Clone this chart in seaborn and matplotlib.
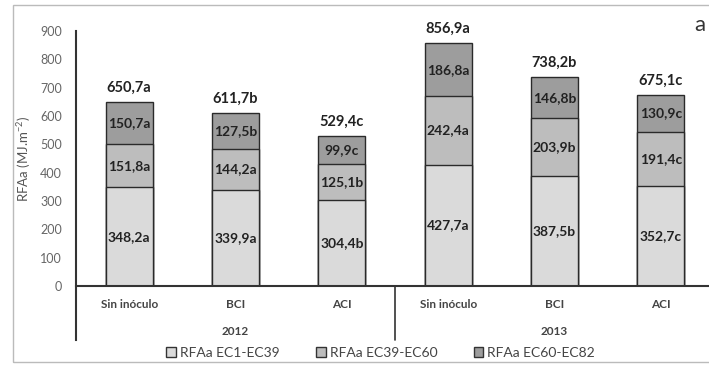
import numpy as np
import pandas as pd
import matplotlib
matplotlib.use('Agg')
import matplotlib.pyplot as plt
from matplotlib.patches import Patch, Rectangle
import seaborn as sns

# data
years = ['2012', '2012', '2012', '2013', '2013', '2013']
treatments = ['Sin inóculo', 'BCI', 'ACI', 'Sin inóculo', 'BCI', 'ACI']
ec1_ec39 = [348.2, 339.9, 304.4, 427.7, 387.5, 352.7]
ec39_ec60 = [151.8, 144.2, 125.1, 242.4, 203.9, 191.4]
ec60_ec82 = [150.7, 127.5, 99.9, 186.8, 146.8, 130.9]
totals = [650.7, 611.7, 529.4, 856.9, 738.2, 675.1]
letters_ec1 = ['a', 'a', 'b', 'a', 'b', 'c']
letters_ec39 = ['a', 'a', 'b', 'a', 'b', 'c']
letters_ec60 = ['a', 'b', 'c', 'a', 'b', 'c']
letters_total = ['a', 'b', 'c', 'a', 'b', 'c']
series_names = ['RFAa EC1-EC39', 'RFAa EC39-EC60', 'RFAa EC60-EC82']
colors = ['#dadada', '#bdbdbd', '#9d9d9d']

df = pd.DataFrame({
    'grupo': [f'{t} {y}' for t, y in zip(treatments, years)],
    'ec1': ec1_ec39,
    'ec39': ec39_ec60,
    'ec60': ec60_ec82,
})
df['cum2'] = df['ec1'] + df['ec39']
df['cum3'] = df['cum2'] + df['ec60']

sns.set_style('white')
plt.rcParams['font.family'] = ['Lato', 'DejaVu Sans']
plt.rcParams['mathtext.default'] = 'regular'

fig = plt.figure(figsize=(7.09, 3.66), dpi=100)
ax = fig.add_axes([76 / 709, 80 / 366, 638 / 709, 255 / 366])

edge = dict(edgecolor='#2a2a2a', linewidth=1.0, width=0.44)
sns.barplot(data=df, x='grupo', y='cum3', color=colors[2], saturation=1, ax=ax, **edge)
sns.barplot(data=df, x='grupo', y='cum2', color=colors[1], saturation=1, ax=ax, **edge)
sns.barplot(data=df, x='grupo', y='ec1', color=colors[0], saturation=1, ax=ax, **edge)


def fmt(v, letter):
    return f'{v:.1f}'.replace('.', ',') + letter


lab_kw = dict(ha='center', va='center', fontsize=10, fontweight='bold', color='#222222')
for i in range(len(df)):
    ax.text(i, ec1_ec39[i] / 2, fmt(ec1_ec39[i], letters_ec1[i]), **lab_kw)
    ax.text(i, ec1_ec39[i] + ec39_ec60[i] / 2, fmt(ec39_ec60[i], letters_ec39[i]), **lab_kw)
    ax.text(i, df['cum2'][i] + ec60_ec82[i] / 2, fmt(ec60_ec82[i], letters_ec60[i]), **lab_kw)
    ax.annotate(fmt(totals[i], letters_total[i]), (i, df['cum3'][i]),
                xytext=(0, 5), textcoords='offset points', ha='center', va='bottom',
                fontsize=10.5, fontweight='bold', color='#222222')

ax.set_ylim(0, 900)
ax.set_xlim(-0.5, 5.5)
ax.set_yticks(range(0, 901, 100))
ax.tick_params(axis='y', length=0, pad=10, labelsize=9, labelcolor='#666666')
ax.tick_params(axis='x', length=0, pad=9, labelsize=8.5, labelcolor='#444444')
ax.set_xticks(range(len(df)))
ax.set_xticklabels(treatments, fontweight='bold')
ax.set_xlabel('')
ax.set_ylabel('RFAa (MJ.m$^{-2}$)', fontsize=9.5, color='#555555', labelpad=5)

for s in ['top', 'right']:
    ax.spines[s].set_visible(False)
ax.spines['left'].set_color('#333333')
ax.spines['left'].set_linewidth(1.5)
ax.spines['left'].set_bounds(-190, 900)
ax.spines['bottom'].set_color('#333333')
ax.spines['bottom'].set_linewidth(1.5)

# year separator and year labels
ax.plot([2.5, 2.5], [0, -190], color='#333333', lw=1.2, clip_on=False)
for yr in ['2012', '2013']:
    idx = [i for i, y in enumerate(years) if y == yr]
    ax.text(np.mean(idx), -0.18, yr, transform=ax.get_xaxis_transform(),
            ha='center', va='center', fontsize=8.5, fontweight='bold', color='#444444')

handles = [Patch(facecolor=c, edgecolor='#333333', linewidth=1.0, label=n)
           for c, n in zip(colors, series_names)]
fig.legend(handles=handles, loc='center', bbox_to_anchor=(0.537, 1 - 353 / 366), ncol=3,
           frameon=False, fontsize=10, handlelength=0.7, handleheight=0.7,
           handletextpad=0.3, columnspacing=2.6, labelcolor='#444444')

fig.text(700 / 709, 1 - 25 / 366, 'a', ha='center', va='center', fontsize=16, color='#333333')
fig.patches.append(Rectangle((13 / 709, 4 / 366), 1.0, 1 - 9 / 366, transform=fig.transFigure,
                             fill=False, edgecolor='#bbbbbb', linewidth=1.0))

fig.savefig('out.png', dpi=100)
